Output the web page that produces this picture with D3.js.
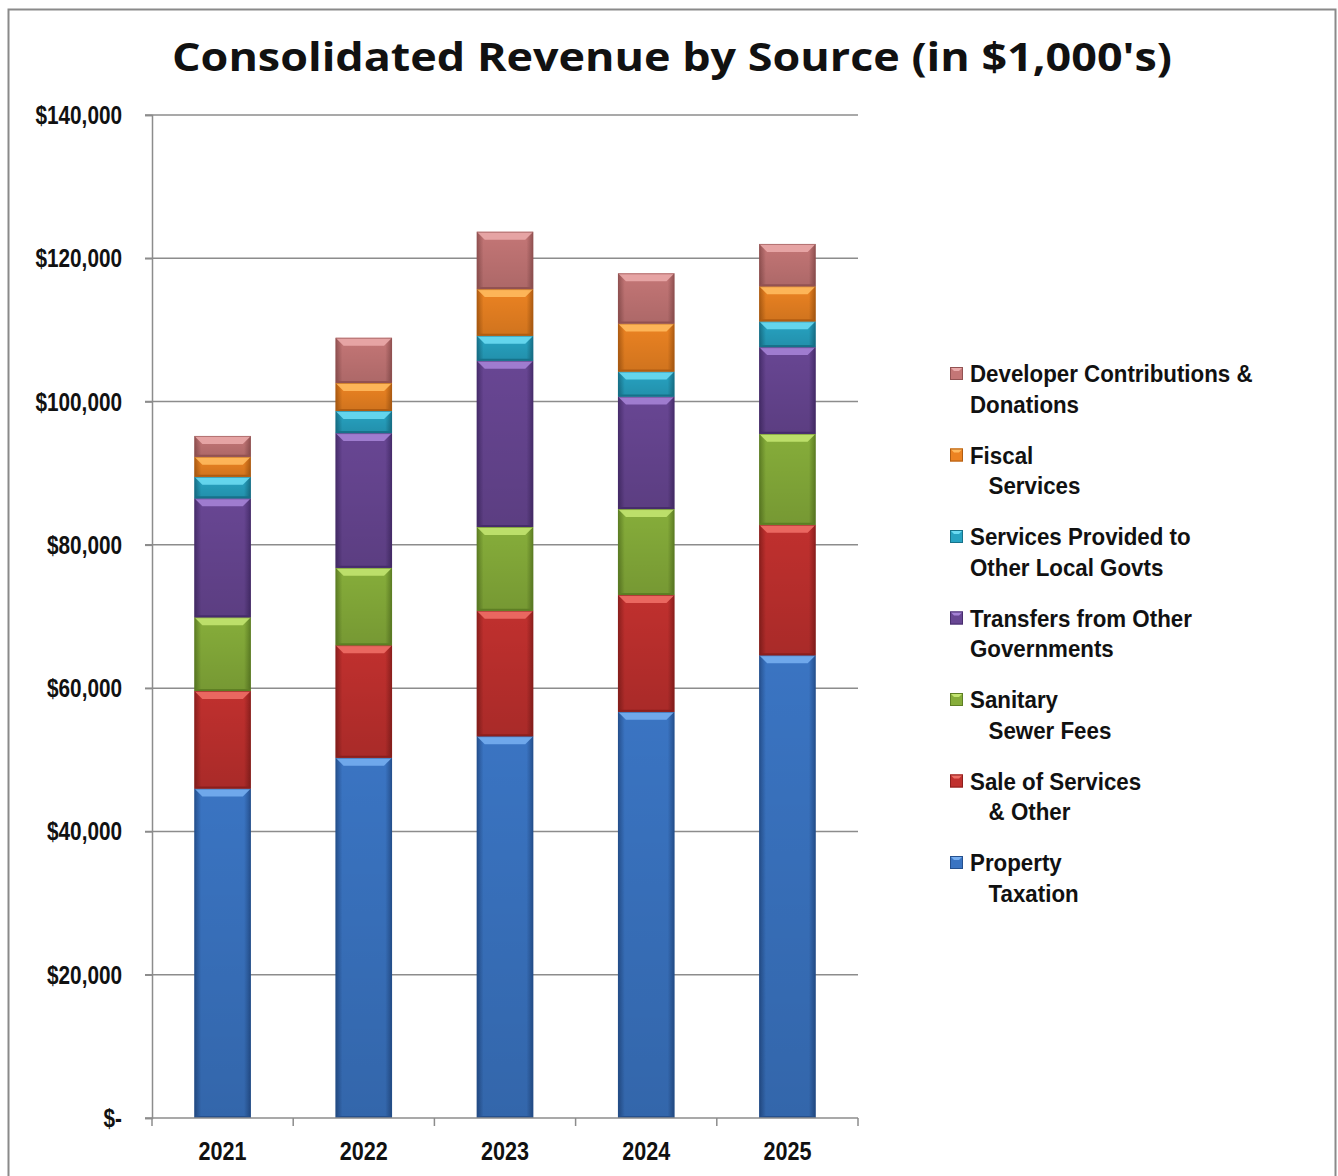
<!DOCTYPE html>
<html>
<head>
<meta charset="utf-8">
<script src="https://cdn.jsdelivr.net/npm/d3@7"></script>
<style>
  html, body { margin: 0; padding: 0; background: #fff; }
  svg { display: block; }
  .narrow { font-family: "Liberation Sans Narrow", "Arial Narrow", "Liberation Sans", Arial, sans-serif; font-weight: 700; }
</style>
</head>
<body>
<svg id="chart" width="1338" height="1176"></svg>
<script>
// Revenue figures in $1,000's
const years = ["2021", "2022", "2023", "2024", "2025"];
const propertyTaxation   = [46000, 50300, 53300, 56700, 64600];
const saleOfServices     = [13600, 15700, 17500, 16300, 18200];
const sanitarySewerFees  = [10300, 10800, 11700, 12000, 12700];
const transfersOtherGovt = [16600, 18800, 23200, 15700, 12100];
const servicesToLocalGov = [3000, 3100, 3500, 3500, 3600];
const fiscalServices     = [2800, 3900, 6500, 6700, 4900];
const developerContrib   = [2900, 6300, 8000, 7000, 5900];
const yTicks = [0, 20000, 40000, 60000, 80000, 100000, 120000, 140000];

// Series from bottom of stack to top
const series = [
  { key: "property",  values: propertyTaxation,   color: "#3a74c2", light: "#76aef0", dark: "#25508e",
    lines: ["Property", "   Taxation"] },
  { key: "sale",      values: saleOfServices,     color: "#c0302e", light: "#ee6e66", dark: "#8c1f1d",
    lines: ["Sale of Services", "   & Other"] },
  { key: "sanitary",  values: sanitarySewerFees,  color: "#86ad3a", light: "#c2e470", dark: "#5e7f24",
    lines: ["Sanitary", "   Sewer Fees"] },
  { key: "transfers", values: transfersOtherGovt, color: "#684693", light: "#a582d6", dark: "#472d6c",
    lines: ["Transfers from Other", "Governments"] },
  { key: "localgov",  values: servicesToLocalGov, color: "#27a3c2", light: "#6adaf2", dark: "#17728a",
    lines: ["Services Provided to", "Other Local Govts"] },
  { key: "fiscal",    values: fiscalServices,     color: "#ec8322", light: "#ffba5e", dark: "#b05d12",
    lines: ["Fiscal", "   Services"] },
  { key: "developer", values: developerContrib,   color: "#c47676", light: "#eaaaaa", dark: "#925252",
    lines: ["Developer Contributions &", "Donations"] }
];

const svg = d3.select("#chart");
const W = 1338, H = 1176;
const squeeze = 0.83; // horizontal scale for condensed axis lettering

// Outer frame
svg.append("path")
  .attr("d", `M8.5,${H} V9.5 H1335.5 V${H}`)
  .attr("fill", "none").attr("stroke", "#8a8a8a").attr("stroke-width", 2);

// Title
svg.append("text")
  .attr("x", 672).attr("y", 71)
  .attr("text-anchor", "middle")
  .attr("font-family", "'Open Sans', 'DejaVu Sans', sans-serif")
  .attr("font-weight", 700)
  .attr("font-size", 40)
  .attr("textLength", 1000)
  .attr("lengthAdjust", "spacingAndGlyphs")
  .attr("fill", "#111")
  .text("Consolidated Revenue by Source (in $1,000's)");

const plot = { left: 152, right: 858, top: 115, bottom: 1118 };

const x = d3.scaleBand().domain(years).range([plot.left, plot.right]).paddingInner(0.6).paddingOuter(0.3);
const y = d3.scaleLinear().domain([0, 140000]).range([plot.bottom, plot.top]);

// Gridlines
svg.append("g").selectAll("line").data(yTicks.filter(d => d > 0)).join("line")
  .attr("x1", plot.left - 7).attr("x2", plot.right)
  .attr("y1", d => y(d)).attr("y2", d => y(d))
  .attr("stroke", "#8c8c8c").attr("stroke-width", 1.5);

// Y axis labels
const fmt = d => d === 0 ? "$-" : "$" + d3.format(",")(d);
const yAxis = d3.axisLeft(y).tickValues(yTicks).tickFormat(fmt).tickSize(7).tickPadding(23);
const gy = svg.append("g").attr("transform", `translate(${plot.left},0)`).call(yAxis);
gy.select(".domain").attr("stroke", "#8c8c8c").attr("stroke-width", 1.5);
gy.selectAll(".tick line").attr("stroke", "#8c8c8c").attr("stroke-width", 1.5);
gy.selectAll(".tick text").attr("class", "narrow").attr("font-size", 25).attr("fill", "#111")
  .attr("x", -30 / squeeze).attr("dy", "0.34em")
  .attr("transform", `scale(${squeeze},1)`);

// Gradients for bevelled bar look
const defs = svg.append("defs");
series.forEach(s => {
  const g = defs.append("linearGradient").attr("id", "grad-" + s.key)
    .attr("x1", "0").attr("x2", "1").attr("y1", "0").attr("y2", "0");
  g.append("stop").attr("offset", "0").attr("stop-color", s.dark);
  g.append("stop").attr("offset", "0.12").attr("stop-color", s.color);
  g.append("stop").attr("offset", "0.88").attr("stop-color", s.color);
  g.append("stop").attr("offset", "1").attr("stop-color", s.dark);
  const gv = defs.append("linearGradient").attr("id", "vgrad-" + s.key)
    .attr("x1", "0").attr("x2", "0").attr("y1", "0").attr("y2", "1");
  gv.append("stop").attr("offset", "0").attr("stop-color", "#000").attr("stop-opacity", 0);
  gv.append("stop").attr("offset", "1").attr("stop-color", "#000").attr("stop-opacity", 0.12);
});

// Stack data
const rows = years.map((yr, i) => {
  const r = { year: yr };
  series.forEach(s => r[s.key] = s.values[i]);
  return r;
});
const stacked = d3.stack().keys(series.map(s => s.key))(rows);

const bev = 8;
const barsG = svg.append("g");
stacked.forEach((layer, li) => {
  const s = series[li];
  const g = barsG.append("g");
  layer.forEach(d => {
    const x0 = x(d.data.year), bw = x.bandwidth();
    const yTop = y(d[1]), yBot = y(d[0]);
    const h = yBot - yTop;
    const seg = g.append("g");
    seg.append("rect").attr("x", x0).attr("y", yTop).attr("width", bw).attr("height", h)
      .attr("fill", `url(#grad-${s.key})`);
    seg.append("rect").attr("x", x0).attr("y", yTop).attr("width", bw).attr("height", h)
      .attr("fill", `url(#vgrad-${s.key})`);
    const b = Math.min(bev, h / 2);
    seg.append("polygon")
      .attr("points", [[x0, yTop], [x0 + bw, yTop], [x0 + bw - b, yTop + b], [x0 + b, yTop + b]].map(p => p.join(",")).join(" "))
      .attr("fill", s.light).attr("opacity", 0.9);
    seg.append("polygon")
      .attr("points", [[x0, yBot], [x0 + bw, yBot], [x0 + bw - 2, yBot - 2], [x0 + 2, yBot - 2]].map(p => p.join(",")).join(" "))
      .attr("fill", s.dark);
    seg.append("rect").attr("x", x0 + 0.5).attr("y", yTop + 0.5).attr("width", bw - 1).attr("height", Math.max(0, h - 1))
      .attr("fill", "none").attr("stroke", s.dark).attr("stroke-width", 1).attr("stroke-opacity", 0.6);
  });
});

// X axis
const gx = svg.append("g").attr("transform", `translate(0,${plot.bottom})`);
gx.append("line").attr("x1", plot.left - 7).attr("x2", plot.right).attr("y1", 0).attr("y2", 0)
  .attr("stroke", "#8c8c8c").attr("stroke-width", 1.5);
const bounds = d3.range(years.length + 1).map(i => plot.left + i * (plot.right - plot.left) / years.length);
gx.selectAll("line.tk").data(bounds).join("line").attr("class", "tk")
  .attr("x1", d => d).attr("x2", d => d).attr("y1", 0).attr("y2", 8)
  .attr("stroke", "#8c8c8c").attr("stroke-width", 1.5);
gx.selectAll("text").data(years).join("text")
  .attr("class", "narrow")
  .attr("x", d => (x(d) + x.bandwidth() / 2) / squeeze).attr("y", 42)
  .attr("transform", `scale(${squeeze},1)`)
  .attr("text-anchor", "middle").attr("font-size", 26).attr("fill", "#111")
  .text(d => d);

// Legend (top entry = top of stack)
const legend = svg.append("g");
const legendItems = series.slice().reverse();
const lsq = 0.93;
legendItems.forEach((s, i) => {
  const ly = 374 + i * 81.5;
  const lg = legend.append("g").attr("transform", `translate(950,${ly})`);
  lg.append("rect").attr("x", 0).attr("y", -7).attr("width", 13).attr("height", 13).attr("fill", s.color);
  lg.append("polygon").attr("points", "0,-7 13,-7 9,-3 4,-3").attr("fill", s.light);
  lg.append("rect").attr("x", 0.5).attr("y", -6.5).attr("width", 12).attr("height", 12)
    .attr("fill", "none").attr("stroke", s.dark).attr("stroke-width", 1);
  const t = lg.append("text").attr("class", "narrow").attr("font-size", 24).attr("fill", "#111")
    .attr("transform", `translate(20,8) scale(${lsq},1)`).attr("xml:space", "preserve");
  s.lines.forEach((ln, j) => {
    t.append("tspan").attr("x", 0).attr("dy", j === 0 ? 0 : 31).text(ln);
  });
});
</script>
</body>
</html>
